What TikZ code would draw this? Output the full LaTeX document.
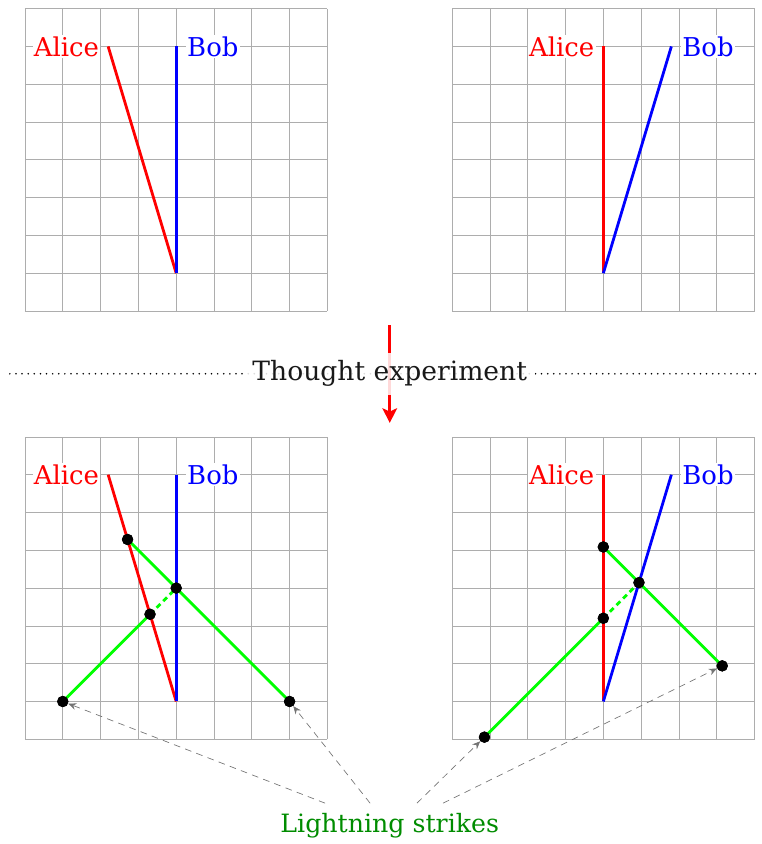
\documentclass[tikz,border=0pt]{standalone}
\usepackage{fontspec}
\setmainfont{DejaVu Serif}
\usetikzlibrary{arrows.meta,calc}
\begin{document}
\begin{tikzpicture}[
  gridlines/.style={black!32, line width=0.5pt},
  alice/.style={red, line width=2.1pt},
  bob/.style={blue, line width=2.1pt},
  light/.style={green, line width=2.1pt},
  lightdash/.style={green, line width=2.1pt, dash pattern=on 4pt off 3pt},
  event/.style={circle, fill=black, inner sep=0pt, minimum size=0.3cm},
  lbl/.style={fill=white, inner sep=1pt, font=\fontsize{19.5}{23}\selectfont},
  pointer/.style={black!55, dash pattern=on 5pt off 4pt, line width=0.5pt, -{Stealth[length=6pt,width=5pt,inset=2pt]}},
  dotline/.style={black, line width=1.3pt, line cap=round, dash pattern=on 0pt off 4.6pt},
  title/.style={fill=white, fill opacity=0.85, text opacity=1, inner sep=6pt, text=black!90, font=\fontsize{20}{24}\selectfont},
]
\useasboundingbox (-0.661,-14.10) rectangle (19.497,8.228);

% ---------- top left: Bob's frame ----------
\begin{scope}
  \draw[gridlines] (0,0) grid (8,8);
  \coordinate (tlO) at (4,1);
  \coordinate (tlA) at (2.2,7);
  \coordinate (tlB) at (4,7);
  \draw[alice] (tlO) -- (tlA);
  \draw[bob] (tlO) -- (tlB);
  \node[lbl, text=red, anchor=east] (tlAl) at ($(tlA)+(-0.2,0)$) {Alice};
  \node[lbl, text=blue, anchor=west] (tlBl) at ($(tlB)+(0.25,0)$) {Bob};
\end{scope}

% ---------- top right: Alice's frame ----------
\begin{scope}[shift={(11.3,0)}]
  \draw[gridlines] (0,0) grid (8,8);
  \coordinate (trO) at (4,1);
  \coordinate (trA) at (4,7);
  \coordinate (trB) at (5.8,7);
  \draw[alice] (trO) -- (trA);
  \draw[bob] (trO) -- (trB);
  \node[lbl, text=red, anchor=east] (trAl) at ($(trA)+(-0.2,0)$) {Alice};
  \node[lbl, text=blue, anchor=west] (trBl) at ($(trB)+(0.25,0)$) {Bob};
\end{scope}

% ---------- middle ----------
\coordinate (dl) at (-0.4,-1.66);
\coordinate (dr) at (19.44,-1.66);
\coordinate (arS) at (9.65,-0.37);
\coordinate (arE) at (9.65,-2.96);
\draw[dotline] (dl) -- (dr);
\draw[red, line width=2.2pt, -{Stealth[length=11pt,width=11pt,inset=2.5pt]}] (arS) -- (arE);
\node[title] (thought) at (9.65,-1.66) {Thought experiment};

% ---------- bottom left ----------
\begin{scope}[shift={(0,-11.33)}]
  \draw[gridlines] (0,0) grid (8,8);
  \coordinate (blO) at (4,1);
  \coordinate (blA) at (2.2,7);
  \coordinate (blB) at (4,7);
  \draw[alice] (blO) -- (blA);
  \draw[bob] (blO) -- (blB);
  \node[event] (blS1) at (1,1) {};
  \node[event] (blS2) at (7,1) {};
  \node[event] (blM) at (4,4) {};
  \node[event] (blR1) at (3.308,3.308) {};
  \node[event] (blR2) at (2.714,5.286) {};
  \draw[light] (blS1.center) -- (blR1.center);
  \draw[lightdash] (blR1.center) -- (blM.center);
  \draw[light] (blR2.center) -- (blS2.center);
  \foreach \n in {blS1,blS2,blM,blR1,blR2} \node[event] at (\n) {};
  \node[lbl, text=red, anchor=east] (blAl) at ($(blA)+(-0.2,0)$) {Alice};
  \node[lbl, text=blue, anchor=west] (blBl) at ($(blB)+(0.25,0)$) {Bob};
\end{scope}

% ---------- bottom right ----------
\begin{scope}[shift={(11.3,-11.33)}]
  \draw[gridlines] (0,0) grid (8,8);
  \coordinate (brO) at (4,1);
  \coordinate (brA) at (4,7);
  \coordinate (brB) at (5.8,7);
  \draw[alice] (brO) -- (brA);
  \draw[bob] (brO) -- (brB);
  \node[event] (brS1) at (0.855,0.057) {};
  \node[event] (brS2) at (7.145,1.943) {};
  \node[event] (brM) at (4.943,4.145) {};
  \node[event] (brR1) at (4,3.202) {};
  \node[event] (brR2) at (4,5.088) {};
  \draw[light] (brS1.center) -- (brR1.center);
  \draw[lightdash] (brR1.center) -- (brM.center);
  \draw[light] (brR2.center) -- (brS2.center);
  \foreach \n in {brS1,brS2,brM,brR1,brR2} \node[event] at (\n) {};
  \node[lbl, text=red, anchor=east] (brAl) at ($(brA)+(-0.2,0)$) {Alice};
  \node[lbl, text=blue, anchor=west] (brBl) at ($(brB)+(0.25,0)$) {Bob};
\end{scope}

% ---------- lightning strikes ----------
\node[text=green!55!black, font=\fontsize{19}{23}\selectfont] (ls) at (9.65,-13.62) {Lightning strikes};
\coordinate (p1) at (7.94,-13.02);
\coordinate (p2) at (9.13,-13.02);
\coordinate (p3) at (10.37,-13.02);
\coordinate (p4) at (11.06,-13.02);
\draw[pointer] (p1) -- (blS1);
\draw[pointer] (p2) -- (blS2);
\draw[pointer] (p3) -- (brS1);
\draw[pointer] (p4) -- (brS2);
\end{tikzpicture}
\end{document}
